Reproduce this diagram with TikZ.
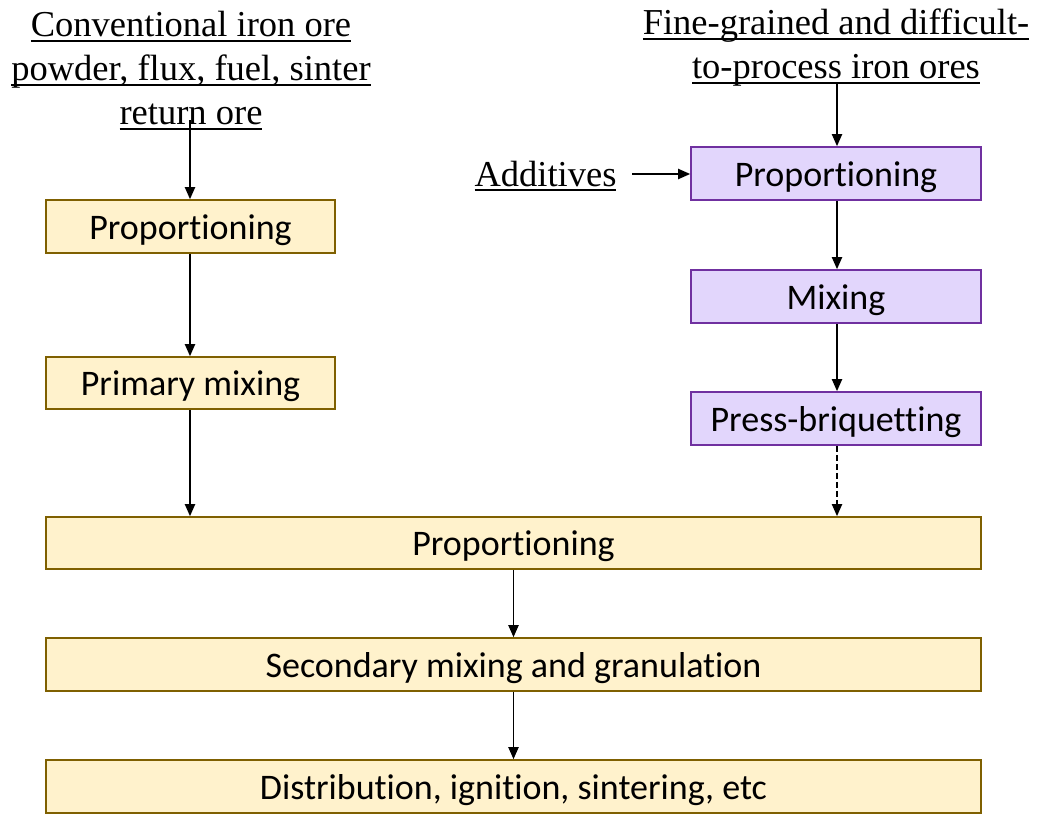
\documentclass[tikz,border=0pt]{standalone}
\usepackage{fontspec}
\setmainfont{Liberation Serif}
\newfontfamily\boxfont[Ligatures=NoCommon,RawFeature=-liga]{Carlito}
\usetikzlibrary{arrows.meta}
\newsavebox{\ulxbox}
\newcommand{\ulx}[1]{\leavevmode\sbox{\ulxbox}{#1}\rlap{\rule[-5pt]{\wd\ulxbox}{1.8pt}}\usebox{\ulxbox}}
\definecolor{yfill}{HTML}{FFF2CC}
\definecolor{ydraw}{HTML}{7F6000}
\definecolor{pfill}{HTML}{E2D6FC}
\definecolor{pdraw}{HTML}{7030A0}
\tikzset{
  boxbase/.style={line width=1.6pt, inner sep=0pt, text height=32pt, text depth=7pt, font=\boxfont\fontsize{36}{40}\selectfont},
  ybox/.style={boxbase, draw=ydraw, fill=yfill},
  pbox/.style={boxbase, draw=pdraw, fill=pfill},
  lbl/.style={align=center, inner sep=0pt, font=\fontsize{36.5}{44}\selectfont},
  arr/.style={line width=1.9pt, -{Triangle[length=12pt,width=10pt]}},
}
\begin{document}
\begin{tikzpicture}[x=1pt,y=-1pt]
\useasboundingbox (0,0) rectangle (1040,823);
% left column
\node[lbl] (srcL) at (191,70.5) {\ulx{Conventional iron ore}\\\ulx{powder, flux, fuel, sinter}\\\ulx{return ore}};
\node[ybox, minimum width=289pt, minimum height=53pt] (propL) at (190.5,226.5) {Proportioning};
\node[ybox, minimum width=289pt, minimum height=52pt] (mixL) at (190.5,383) {Primary mixing};
% right column
\node[lbl] (srcR) at (836,48) {\ulx{Fine-grained and difficult-}\\\ulx{to-process iron ores}};
\node[lbl] (add) at (545.5,176) {\ulx{Additives}};
\node[pbox, minimum width=290pt, minimum height=53pt] (propR) at (836,173.5) {Proportioning};
\node[pbox, minimum width=290pt, minimum height=53pt] (mixR) at (836,296.5) {Mixing};
\node[pbox, minimum width=290pt, minimum height=53pt] (press) at (836,418.5) {Press-briquetting};
% bottom
\node[ybox, minimum width=935pt, minimum height=52pt] (prop2) at (513.5,543) {Proportioning};
\node[ybox, minimum width=935pt, minimum height=53pt] (sec) at (513.5,664.5) {Secondary mixing and granulation};
\node[ybox, minimum width=935pt, minimum height=53pt] (dist) at (513.5,786.5) {Distribution, ignition, sintering, etc};
% coordinates
\coordinate (sL) at (190,120);
\coordinate (sR) at (837,83);
\coordinate (aS) at (632,174);
% arrows
\draw[arr] (sL) -- (propL.north -| sL);
\draw[arr] (propL.south -| sL) -- (mixL.north -| sL);
\draw[arr] (mixL.south -| sL) -- (prop2.north -| sL);
\draw[arr] (sR) -- (propR.north -| sR);
\draw[arr] (aS) -- (propR.west |- aS);
\draw[arr] (propR.south -| sR) -- (mixR.north -| sR);
\draw[arr] (mixR.south -| sR) -- (press.north -| sR);
\draw[arr, dash pattern=on 6pt off 3pt] (press.south -| sR) -- (prop2.north -| sR);
\draw[arr] (prop2.south) -- (sec.north);
\draw[arr] (sec.south) -- (dist.north);
\end{tikzpicture}
\end{document}
